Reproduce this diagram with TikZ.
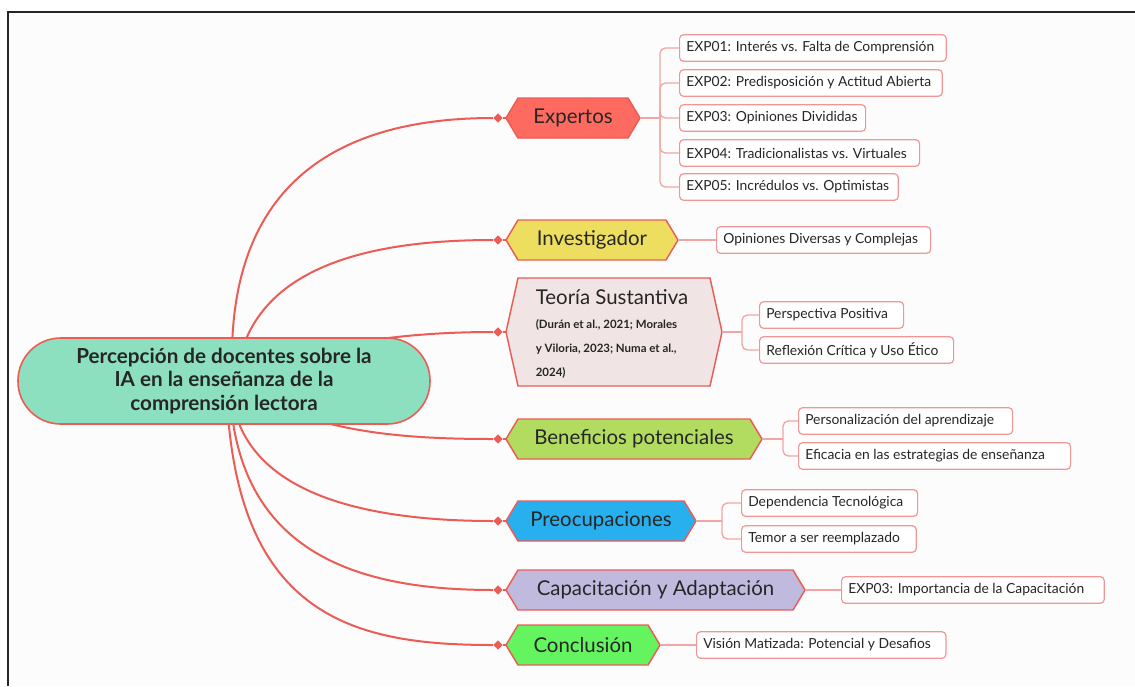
\documentclass[tikz,border=0pt]{standalone}
\usepackage{fontspec}
\setmainfont{Lato}
\usetikzlibrary{shapes.geometric,calc}
\definecolor{linec}{RGB}{236,92,86}
\definecolor{subc}{RGB}{243,165,165}
\definecolor{leafc}{RGB}{240,150,150}
\definecolor{txt}{RGB}{38,38,38}
\definecolor{bgc}{RGB}{252,252,252}
\definecolor{rootc}{RGB}{140,224,192}
\definecolor{expc}{RGB}{252,106,96}
\definecolor{invc}{RGB}{238,222,96}
\definecolor{teoc}{RGB}{240,228,228}
\definecolor{benc}{RGB}{178,220,96}
\definecolor{prec}{RGB}{40,176,238}
\definecolor{capc}{RGB}{192,186,222}
\definecolor{conc}{RGB}{100,244,96}
% hexagon: name, cx, cy, half body width (px), half height (px), fill, text
\newcommand\hexnode[7]{%
  \path[hexd, fill=#6] (#2-#4-12,#3) -- (#2-#4,#3-#5) -- (#2+#4,#3-#5) -- (#2+#4+12,#3)
     -- (#2+#4,#3+#5) -- (#2-#4,#3+#5) -- cycle;
  \node[maintxt] (#1) at (#2,#3) {#7};
  \coordinate (#1-w) at (#2-#4-12,#3);
  \coordinate (#1-e) at (#2+#4+12,#3);
}
% leaf: name, left x, cy, text width, text
\newcommand\leafnode[5]{%
  \node[leaf] (#1) at (#2,#3) {\makebox[#4][l]{#5}};
}
\begin{document}
\begin{tikzpicture}[x=0.75pt,y=-0.75pt,
  hexd/.style={draw=linec, line width=1.1pt},
  maintxt/.style={text=txt, font=\fontsize{15.3}{18}\selectfont, inner sep=0pt},
  leaf/.style={draw=leafc, fill=white, rounded corners=3pt, line width=0.9pt, anchor=west,
     minimum height=20pt, inner xsep=5pt, inner ysep=0pt, text=txt, font=\fontsize{10.4}{12}\selectfont},
  mainl/.style={draw=linec, line width=1.5pt},
  subl/.style={draw=subc, line width=1pt, rounded corners=4pt},
  dia/.style={diamond, fill=linec, minimum size=7pt, inner sep=0pt},
  rootn/.style={draw=linec, line width=1.2pt, fill=rootc, rounded corners=32pt,
     minimum width=309pt, minimum height=64.5pt, align=center, text=txt,
     font=\fontsize{15.5}{17.6}\selectfont\bfseries},
  frame/.style={draw=black!85, line width=2pt}
]
\useasboundingbox (0,0) rectangle (1135,686);
\fill[white] (0,0) rectangle (1135,686);
\fill[bgc] (8,12) rectangle (1135,686);
\draw[frame] (8,686) -- (8,12) -- (1135,12);

% diamonds
\node[dia] (dE) at (498,118) {};
\node[dia] (dI) at (498,240) {};
\node[dia] (dT) at (498,332) {};
\node[dia] (dB) at (498,439) {};
\node[dia] (dP) at (498,521) {};
\node[dia] (dC) at (498,590) {};
\node[dia] (dK) at (498,645) {};

% hexagon nodes
\hexnode{exp}{573}{118}{55}{20}{expc}{Expertos}
\hexnode{inv}{592}{240}{74}{20}{invc}{Investigador}
\path[hexd, fill=teoc] (506,332) -- (518,278) -- (710,278) -- (722,332) -- (710,386) -- (518,386) -- cycle;
\coordinate (teo-w) at (506,332);
\coordinate (teo-e) at (722,332);
\node[text=txt, align=left, inner sep=0pt, font=\fontsize{8.6}{18}\selectfont\bfseries] (teo) at (612,334)
  {{\fontsize{15.3}{17}\selectfont\mdseries Teoría Sustantiva}\\[0pt]
   (Durán et al., 2021; Morales\\ y Viloria, 2023; Numa et al.,\\ 2024)};
\hexnode{ben}{634}{439}{116}{20}{benc}{Beneficios potenciales}
\hexnode{pre}{601}{521}{83}{20}{prec}{Preocupaciones}
\hexnode{cap}{655.5}{590}{137.5}{20}{capc}{Capacitación y Adaptación}
\hexnode{con}{583}{645}{65}{20}{conc}{Conclusión}

% root start points
\coordinate (rE) at (232,350);
\coordinate (rI) at (242,350);
\coordinate (rT) at (320,350);
\coordinate (rB) at (300,415);
\coordinate (rP) at (236,415);
\coordinate (rC) at (232,415);
\coordinate (rK) at (228,415);

% main connectors
\draw[mainl] (rE) .. controls (235,190) and (330,118) .. (dE);
\draw[mainl] (rI) .. controls (270,262) and (380,240) .. (dI);
\draw[mainl] (rT) .. controls (380,336) and (440,332) .. (dT);
\draw[mainl] (rB) .. controls (360,436) and (430,439) .. (dB);
\draw[mainl] (rP) .. controls (262,500) and (380,521) .. (dP);
\draw[mainl] (rC) .. controls (250,560) and (370,590) .. (dC);
\draw[mainl] (rK) .. controls (244,620) and (360,645) .. (dK);
\foreach \d/\h in {dE/exp,dI/inv,dT/teo,dB/ben,dP/pre,dC/cap,dK/con}
  \draw[mainl] (\d) -- (\h-w);

% root
\node[rootn] (root) at (224,381)
  {Percepción de docentes sobre la\\ IA en la enseñanza de la\\ comprensión lectora};

% leaves
\leafnode{e1}{679}{48}{190pt}{EXP01: Interés vs. Falta de Comprensión}
\leafnode{e2}{679}{83}{187pt}{EXP02: Predisposición y Actitud Abierta}
\leafnode{e3}{679}{118}{129.5pt}{EXP03: Opiniones Divididas}
\leafnode{e4}{679}{153}{170pt}{EXP04: Tradicionalistas vs. Virtuales}
\leafnode{e5}{679}{187}{154pt}{EXP05: Incrédulos vs. Optimistas}
\leafnode{i1}{716}{240}{150.5pt}{Opiniones Diversas y Complejas}
\leafnode{t1}{759}{315}{98pt}{Perspectiva Positiva}
\leafnode{t2}{759}{350}{135.5pt}{Reflexión Crítica y Uso Ético}
\leafnode{b1}{798}{421}{150.5pt}{Personalización del aprendizaje}
\leafnode{b2}{798}{456}{194pt}{Eficacia en las estrategias de enseñanza}
\leafnode{p1}{741}{503}{122pt}{Dependencia Tecnológica}
\leafnode{p2}{741}{539}{121pt}{Temor a ser reemplazado}
\leafnode{c1}{841}{590}{187pt}{EXP03: Importancia de la Capacitación}
\leafnode{k1}{696}{645}{177pt}{Visión Matizada: Potencial y Desafios}

% sub connectors
\coordinate (jE) at (660,118);
\draw[subl] (exp-e) -- (jE);
\foreach \c in {e1,e2,e3,e4,e5} \draw[subl] (jE) |- (\c.west);
\draw[subl] (inv-e) -- (i1.west);
\coordinate (jT) at (742,332);
\draw[subl] (teo-e) -- (jT);
\foreach \c in {t1,t2} \draw[subl] (jT) |- (\c.west);
\coordinate (jB) at (783,439);
\draw[subl] (ben-e) -- (jB);
\foreach \c in {b1,b2} \draw[subl] (jB) |- (\c.west);
\coordinate (jP) at (722,521);
\draw[subl] (pre-e) -- (jP);
\foreach \c in {p1,p2} \draw[subl] (jP) |- (\c.west);
\draw[subl] (cap-e) -- (c1.west);
\draw[subl] (con-e) -- (k1.west);
\end{tikzpicture}
\end{document}
